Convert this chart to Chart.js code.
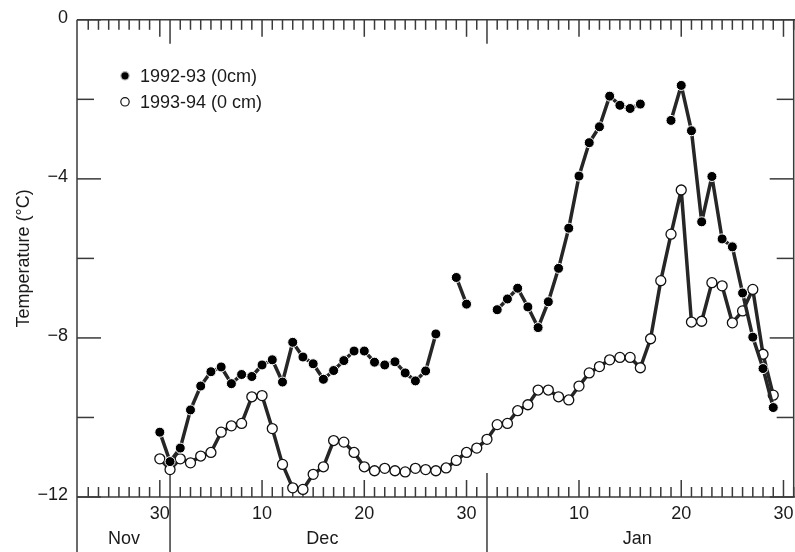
<!DOCTYPE html>
<html>
<head>
<meta charset="utf-8">
<script src="https://cdn.jsdelivr.net/npm/chart.js@4/dist/chart.umd.min.js"></script>
<style>
  html, body { margin: 0; padding: 0; background: #fff; overflow: hidden; }
  #wrap { width: 800px; height: 552px; }
</style>
</head>
<body>
<div id="wrap"><canvas id="c" width="800" height="552"></canvas></div>
<script>
// ---- data -------------------------------------------------------------
const dates = [
  'Nov 30',
  'Dec 1','Dec 2','Dec 3','Dec 4','Dec 5','Dec 6','Dec 7','Dec 8','Dec 9','Dec 10',
  'Dec 11','Dec 12','Dec 13','Dec 14','Dec 15','Dec 16','Dec 17','Dec 18','Dec 19','Dec 20',
  'Dec 21','Dec 22','Dec 23','Dec 24','Dec 25','Dec 26','Dec 27','Dec 28','Dec 29','Dec 30','Dec 31',
  'Jan 1','Jan 2','Jan 3','Jan 4','Jan 5','Jan 6','Jan 7','Jan 8','Jan 9','Jan 10',
  'Jan 11','Jan 12','Jan 13','Jan 14','Jan 15','Jan 16','Jan 17','Jan 18','Jan 19','Jan 20',
  'Jan 21','Jan 22','Jan 23','Jan 24','Jan 25','Jan 26','Jan 27','Jan 28','Jan 29'
];
const temp9293 = [
  -10.37,
  -11.11,-10.77,-9.81,-9.21,-8.85,-8.73,-9.15,-8.92,-8.97,-8.68,
  -8.55,-9.11,-8.11,-8.48,-8.65,-9.04,-8.82,-8.57,-8.33,-8.33,
  -8.61,-8.68,-8.60,-8.88,-9.08,-8.83,-7.90,null,-6.48,-7.15,null,
  null,-7.29,-7.02,-6.75,-7.22,-7.74,-7.09,-6.25,-5.24,-3.93,
  -3.09,-2.69,-1.92,-2.15,-2.23,-2.12,null,null,-2.53,-1.65,
  -2.79,-5.08,-3.94,-5.51,-5.71,-6.87,-7.98,-8.77,-9.75
];
const temp9394 = [
  -11.04,
  -11.31,-11.04,-11.14,-10.97,-10.88,-10.37,-10.21,-10.15,-9.48,-9.45,
  -10.28,-11.18,-11.77,-11.81,-11.43,-11.24,-10.58,-10.62,-10.88,-11.24,
  -11.34,-11.28,-11.34,-11.37,-11.28,-11.31,-11.34,-11.27,-11.08,-10.88,-10.77,
  -10.55,-10.18,-10.15,-9.83,-9.68,-9.31,-9.31,-9.48,-9.56,-9.21,
  -8.88,-8.72,-8.55,-8.49,-8.49,-8.75,-8.02,-6.56,-5.39,-4.28,
  -7.60,-7.58,-6.61,-6.69,-7.62,-7.32,-6.78,-8.41,-9.44
];
const seriesNames = ['1992-93 (0cm)', '1993-94 (0 cm)'];
// day-of-month tick labels (date -> label)
const tickDates = ['Nov 30','Dec 10','Dec 20','Dec 30','Jan 10','Jan 20','Jan 30'];
const tickLabels = ['30','10','20','30','10','20','30'];
// months shown under the axis, with the day their name is centred on
const monthNames = ['Nov','Dec','Jan'];
const monthCentres = ['Nov 26.5','Dec 15.9','Jan 15.7'];
const monthStartDates = ['Dec 1','Jan 1'];
const axisStart = 'Nov 21.9', axisEnd = 'Jan 31';
const yLabelValues = [0,-4,-8,-12];
const yMinorValues = [-2,-6,-10];

// ---- helpers ----------------------------------------------------------
const monthOffset = { Nov: -30, Dec: 0, Jan: 31 };
function dayNum(s) { const [m, d] = s.split(' '); return monthOffset[m] + parseFloat(d); }

const xDays = dates.map(dayNum);
const tickDays = tickDates.map(dayNum);
const monthDays = monthCentres.map(dayNum);
const monthStarts = monthStartDates.map(dayNum);

const FONT = "'Liberation Sans', Arial, Helvetica, sans-serif";
const INK = '#1a1a1a';
const AXIS = '#3a3a3a';

const axisFrame = {
  id: 'axisFrame',
  beforeDatasetsDraw(chart) {
    const { ctx, chartArea: a, scales: { x, y } } = chart;
    ctx.save();
    ctx.strokeStyle = AXIS;
    ctx.lineWidth = 1.5;
    const line = (x1, y1, x2, y2) => { ctx.beginPath(); ctx.moveTo(x1, y1); ctx.lineTo(x2, y2); ctx.stroke(); };
    line(a.left, a.top, chart.width, a.top);
    line(a.left, a.bottom, chart.width, a.bottom);
    line(a.left, a.top, a.left, chart.height);
    line(a.right, a.top, a.right, a.bottom);
    for (let d = Math.ceil(x.min); d <= Math.floor(x.max); d++) {
      const px = x.getPixelForValue(d);
      if (px - a.left < 4) continue;
      let len = 10;
      if (tickDays.includes(d)) len = 17;
      if (monthStarts.includes(d)) len = 24;
      line(px, a.bottom, px, a.bottom - len);
      line(px, a.top, px, a.top + len);
      if (monthStarts.includes(d)) line(px, a.bottom, px, chart.height);
    }
    yLabelValues.concat(yMinorValues).forEach(v => {
      const py = y.getPixelForValue(v);
      const len = yLabelValues.includes(v) ? 24 : 17;
      line(a.left, py, a.left + len, py);
      line(a.right, py, a.right - len, py);
    });
    ctx.restore();
  }
};

const inlineLegend = {
  id: 'inlineLegend',
  afterDatasetsDraw(chart) {
    const { ctx, chartArea: a } = chart;
    ctx.save();
    chart.data.datasets.forEach((ds, i) => {
      const cx = a.left + 48, cy = a.top + 56 + i * 26;
      ctx.beginPath();
      ctx.arc(cx, cy, 4.2, 0, Math.PI * 2);
      ctx.fillStyle = ds.pointBackgroundColor;
      ctx.fill();
      ctx.lineWidth = 1.2;
      ctx.strokeStyle = i === 0 ? '#bbb' : '#111';
      ctx.stroke();
      ctx.fillStyle = INK;
      ctx.font = '18px ' + FONT;
      ctx.textBaseline = 'middle';
      ctx.textAlign = 'left';
      ctx.fillText(ds.label, a.left + 63, cy + 1);
    });
    ctx.restore();
  }
};

const toPoints = vals => xDays.map((d, i) => ({ x: d, y: vals[i] }));

new Chart(document.getElementById('c'), {
  type: 'line',
  data: {
    datasets: [
      {
        label: seriesNames[0],
        data: toPoints(temp9293),
        borderColor: '#262626',
        borderWidth: 3.5,
        borderJoinStyle: 'round',
        borderCapStyle: 'round',
        pointRadius: 5,
        pointBackgroundColor: '#000',
        pointBorderColor: '#fff',
        pointBorderWidth: 1,
        spanGaps: false,
        tension: 0
      },
      {
        label: seriesNames[1],
        data: toPoints(temp9394),
        borderColor: '#262626',
        borderWidth: 3.5,
        borderJoinStyle: 'round',
        borderCapStyle: 'round',
        pointRadius: 5,
        pointBackgroundColor: '#fff',
        pointBorderColor: '#111',
        pointBorderWidth: 1.3,
        spanGaps: false,
        tension: 0
      }
    ]
  },
  options: {
    responsive: false,
    animation: false,
    events: [],
    layout: { padding: { top: 16, right: 3, left: 0, bottom: 0 } },
    plugins: { legend: { display: false }, tooltip: { enabled: false }, title: { display: false } },
    scales: {
      x: {
        type: 'linear',
        position: 'bottom',
        min: dayNum(axisStart),
        max: dayNum(axisEnd),
        grid: { display: false, drawTicks: false },
        border: { display: false },
        afterBuildTicks: s => { s.ticks = tickDays.map(v => ({ value: v })); },
        afterFit: s => { s.height = 31; },
        ticks: {
          autoSkip: false, maxRotation: 0, padding: 6,
          color: INK, font: { family: FONT, size: 18 },
          callback: v => { const k = tickDays.indexOf(v); return k >= 0 ? tickLabels[k] : ''; }
        }
      },
      month: {
        type: 'linear',
        axis: 'x',
        position: 'bottom',
        min: dayNum(axisStart),
        max: dayNum(axisEnd),
        grid: { display: false, drawTicks: false },
        border: { display: false },
        afterBuildTicks: s => { s.ticks = monthDays.map(v => ({ value: v })); },
        afterFit: s => { s.height = 24; },
        ticks: {
          autoSkip: false, maxRotation: 0, padding: 0,
          color: INK, font: { family: FONT, size: 18 },
          callback: v => { const k = monthDays.indexOf(v); return k >= 0 ? monthNames[k] : ''; }
        }
      },
      y: {
        type: 'linear',
        min: -12,
        max: 0,
        grid: { display: false, drawTicks: false },
        border: { display: false },
        afterBuildTicks: s => { s.ticks = yLabelValues.map(v => ({ value: v })); },
        afterFit: s => { s.width = 77; },
        title: {
          display: true, text: 'Temperature (°C)', color: INK,
          font: { family: FONT, size: 18 }, padding: { top: 13, bottom: 0 }
        },
        ticks: {
          padding: 9, labelOffset: -2, color: INK, font: { family: FONT, size: 18 },
          callback: v => v === 0 ? '0' : '\u2212' + Math.abs(v)
        }
      }
    }
  },
  plugins: [axisFrame, inlineLegend]
});
</script>
</body>
</html>
